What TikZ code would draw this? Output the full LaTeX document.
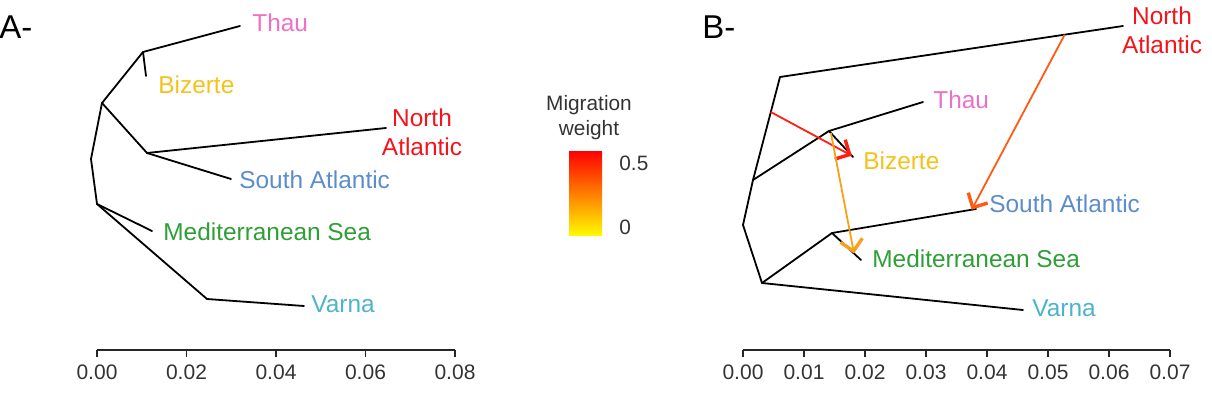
\documentclass[tikz,border=0pt]{standalone}
\usepackage{fontspec}
\setmainfont{Liberation Sans}
\usetikzlibrary{calc, arrows.meta}
\definecolor{thaupink}{HTML}{EE6FC6}
\definecolor{bizgold}{HTML}{F5C21B}
\definecolor{natlred}{HTML}{F4141C}
\definecolor{satlblue}{HTML}{5B8CCB}
\definecolor{medgreen}{HTML}{2E9E35}
\definecolor{varnacyan}{HTML}{4DB3CC}
\definecolor{migred}{HTML}{FF1E10}
\definecolor{migorange}{HTML}{F7A11A}
\definecolor{migflame}{HTML}{FF5A14}
\tikzset{
    branch/.style={line width=0.9pt, black, line cap=round, line join=round},
    tiplabel/.style={anchor=west, inner sep=0pt, font=\fontsize{12.2}{14.5}\selectfont},
    migarrow/.style={line width=0.9pt, -{Straight Barb[length=5.5pt, width=11pt, line width=1.7pt]}},
    ticklabel/.style={inner sep=0pt, text=black!80, font=\fontsize{10.5}{12}\selectfont},
    legendtext/.style={inner sep=0pt, text=black!80, font=\fontsize{10.4}{12.5}\selectfont},
    panel/.style={anchor=west, inner sep=0pt, font=\fontsize{16.5}{18}\selectfont}
}

\begin{document}
\begin{tikzpicture}[x=0.5pt, y=-0.5pt]
    \useasboundingbox (0,0) rectangle (1212,407);

    % Panel A: tree without migration
    \node[panel] (labA) at (-1,27) {A-};
    \coordinate (aRoot) at (91,159);
    \coordinate (aUp) at (102,103);
    \coordinate (aThauJ) at (143,52);
    \coordinate (aThau) at (240,26);
    \coordinate (aBiz) at (146,76);
    \coordinate (aAtlJ) at (147,153);
    \coordinate (aNA) at (386,128);
    \coordinate (aSA) at (231,179);
    \coordinate (aLow) at (97,204);
    \coordinate (aMed) at (152,231);
    \coordinate (aVarJ) at (207,299);
    \coordinate (aVar) at (304,306);

    \draw[branch] (aThau) -- (aThauJ) -- (aUp) -- (aRoot) -- (aLow) -- (aVarJ) -- (aVar);
    \draw[branch] (aThauJ) -- (aBiz);
    \draw[branch] (aUp) -- (aAtlJ) -- (aNA);
    \draw[branch] (aAtlJ) -- (aSA);
    \draw[branch] (aLow) -- (aMed);

    \node[tiplabel, text=thaupink] (aThauL) at (252,23) {Thau};
    \node[tiplabel, text=bizgold] (aBizL) at (158,85) {Bizerte};
    \node[tiplabel, text=natlred, anchor=center, align=center] (aNAL) at (422,132) {North\\Atlantic};
    \node[tiplabel, text=satlblue] (aSAL) at (239,180) {South Atlantic};
    \node[tiplabel, text=medgreen] (aMedL) at (163,232) {Mediterranean Sea};
    \node[tiplabel, text=varnacyan] (aVarL) at (311,304) {Varna};

    % axis A
    \draw[line width=0.8pt, black!85] (97,350) -- (455,350);
    \foreach \i/\t in {0/0.00, 1/0.02, 2/0.04, 3/0.06, 4/0.08} {
        \draw[line width=0.8pt, black!85] (97+89.5*\i,350) -- ++(0,7);
        \node[ticklabel] (aTick\i) at (97+89.5*\i,372) {\t};
    }

    % Legend
    \node[legendtext] (legTitle) at (589,105) {Migration};
    \node[legendtext] (legSub) at (589,130) {weight};
    \shade[top color=red, bottom color=yellow!95!orange] (569,151) rectangle (602,235);
    \node[legendtext, anchor=west] (legHigh) at (619,163) {0.5};
    \node[legendtext, anchor=west] (legLow) at (619,227) {0};

    % Panel B: tree with migration edges
    \node[panel] (labB) at (702,27) {B-};
    \coordinate (bTop) at (780,77);
    \coordinate (bNA) at (1123,26);
    \coordinate (bMid) at (753,180);
    \coordinate (bRoot) at (743,225);
    \coordinate (bLowJ) at (762,283);
    \coordinate (bThauJ) at (829,131);
    \coordinate (bThau) at (923,102);
    \coordinate (bBiz) at (853,157);
    \coordinate (bMedJ) at (832,233);
    \coordinate (bSA) at (976,209);
    \coordinate (bMed) at (861,260);
    \coordinate (bVar) at (1023,310);

    \draw[branch] (bNA) -- (bTop) -- (bMid) -- (bRoot) -- (bLowJ) -- (bVar);
    \draw[branch] (bMid) -- (bThauJ) -- (bThau);
    \draw[branch] (bThauJ) -- (bBiz);
    \draw[branch] (bLowJ) -- (bMedJ) -- (bSA);
    \draw[branch] (bMedJ) -- (bMed);

    \node[tiplabel, text=natlred, anchor=center, align=center] (bNAL) at (1162,30) {North\\Atlantic};
    \node[tiplabel, text=thaupink] (bThauL) at (933,100) {Thau};
    \node[tiplabel, text=bizgold] (bBizL) at (863,161) {Bizerte};
    \node[tiplabel, text=satlblue] (bSAL) at (989,204) {South Atlantic};
    \node[tiplabel, text=medgreen] (bMedL) at (872,259) {Mediterranean Sea};
    \node[tiplabel, text=varnacyan] (bVarL) at (1032,308) {Varna};

    % migration edges
    \draw[migarrow, migred] ($(bTop)!0.34!(bMid)$) -- ($(bThauJ)!0.95!(bBiz)$);
    \draw[migarrow, migorange] ($(bThauJ)!0.08!(bBiz)$) -- ($(bMedJ)!0.76!(bMed)$);
    \draw[migarrow, migflame] ($(bTop)!0.83!(bNA)$) -- ($(bMedJ)!0.97!(bSA)$);

    % axis B
    \draw[line width=0.8pt, black!85] (743,350) -- (1170,350);
    \foreach \i/\t in {0/0.00, 1/0.01, 2/0.02, 3/0.03, 4/0.04, 5/0.05, 6/0.06, 7/0.07} {
        \draw[line width=0.8pt, black!85] (743+61*\i,350) -- ++(0,7);
        \node[ticklabel] (bTick\i) at (743+61*\i,372) {\t};
    }
\end{tikzpicture}
\end{document}
